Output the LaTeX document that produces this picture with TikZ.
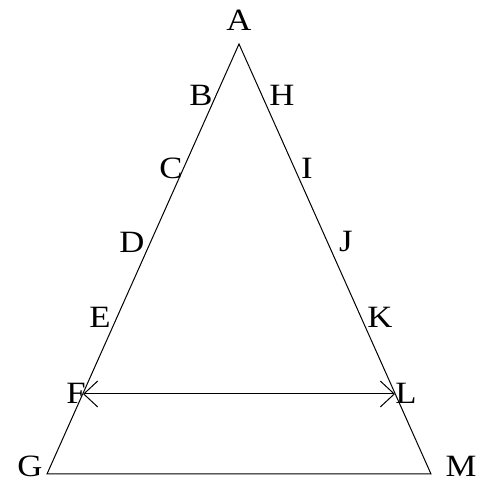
\documentclass[tikz,border=0pt]{standalone}
\usepackage{fontspec}
\setmainfont{Liberation Serif}
\usetikzlibrary{arrows.meta}
\begin{document}
\begin{tikzpicture}[x=1pt,y=1pt,
  lbl/.style={font=\fontsize{31}{31}\selectfont, inner sep=0pt, xscale=1.12},
  edge/.style={line width=1pt, black},
  dbl/.style={line width=1pt, black, {Straight Barb[length=14pt,width=26pt,line width=1pt]}-{Straight Barb[length=14pt,width=26pt,line width=1pt]}}]
\useasboundingbox (0,0) rectangle (484,481);
\coordinate (pA) at (239,437);
\coordinate (pG) at (47,7);
\coordinate (pM) at (431,7);
\coordinate (pF) at (83,87);
\coordinate (pL) at (395,87);
\draw[edge] (pG) -- (pA) -- (pM) -- cycle;
\draw[dbl] (pF) -- (pL);
\node[lbl] (A) at (239,461) {A};
\node[lbl] (B) at (201,386) {B};
\node[lbl] (H) at (282,386) {H};
\node[lbl] (C) at (171,313) {C};
\node[lbl] (I) at (307,313) {I};
\node[lbl] (D) at (132,239) {D};
\node[lbl] (J) at (346,239) {J};
\node[lbl] (E) at (100,164) {E};
\node[lbl] (K) at (380,164) {K};
\node[lbl] (F) at (76,88) {F};
\node[lbl] (L) at (406,88) {L};
\node[lbl] (G) at (30,15) {G};
\node[lbl] (M) at (461,15) {M};
\end{tikzpicture}
\end{document}
